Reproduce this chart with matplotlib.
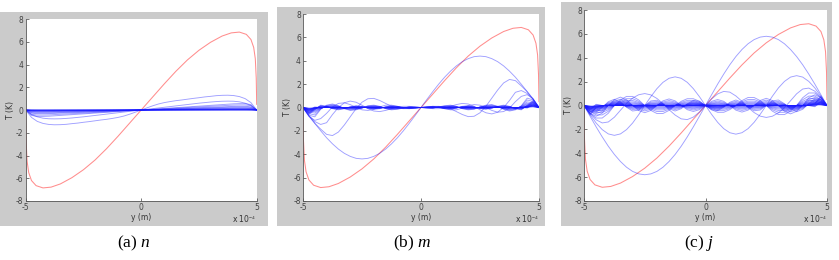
import matplotlib
matplotlib.use('Agg')

import numpy as np
import matplotlib.pyplot as plt
from matplotlib.patches import Rectangle

plt.rcParams['axes.unicode_minus'] = False
plt.rcParams['mathtext.fontset'] = 'custom'
plt.rcParams['mathtext.it'] = 'Liberation Serif:italic'
plt.rcParams['mathtext.rm'] = 'Liberation Serif'

# positions along y (units of 1e-4 m), right half; left half is the odd mirror
y_half = [0, 0.25, 0.5, 0.75, 1, 1.25, 1.5, 1.75, 2, 2.25, 2.5, 2.75,
          3, 3.25, 3.5, 3.75, 4, 4.25, 4.5, 4.75, 5]

# red curve (right half)
red_y = [0, 0.5, 1, 1.5, 2, 2.5, 3, 3.5, 3.9, 4.25, 4.55, 4.75, 4.87, 4.94, 4.98, 5.0]
red_T = [0, 1.15, 2.3, 3.4, 4.4, 5.25, 5.95, 6.5, 6.78, 6.85, 6.65, 6.2, 5.5, 4.5, 2.8, 0.5]

# (a) n
a_curves = [
    [0, .19, .37, .53, .65, .74, .82, .88, .95, 1.02, 1.08, 1.15, 1.2, 1.26, 1.29, 1.3, 1.27, 1.18, 1.0, .65, 0],
    [0, .06, .12, .18, .24, .3, .36, .42, .48, .54, .6, .65, .7, .74, .77, .78, .77, .72, .6, .4, 0],
]
a_edge = [0, .02, .04, .06, .08, .1, .12, .14, .16, .18, .2, .22, .24, .26, .28, .3, .32, .33, .33, .28, 0]
a_band = [1.7, 1.35, 1.0, .8, .6, .45, .35, .25, .18, .12, .08, .05, .03, .02, .01]

# (b) m
b_curves = [
    [0, .69, 1.36, 2.0, 2.59, 3.11, 3.56, 3.92, 4.18, 4.35, 4.4, 4.35, 4.18, 3.92, 3.56, 3.11, 2.59, 1.99, 1.36, .69, 0],
    [0, .05, .1, .1, .05, -.1, -.35, -.6, -.78, -.75, -.45, .1, .8, 1.5, 2.1, 2.4, 2.3, 1.85, 1.35, .75, 0],
    [0, -.05, -.1, -.1, -.05, .1, .25, .35, .3, .1, -.2, -.45, -.55, -.4, 0, .6, 1.3, 1.45, 1.2, .7, 0],
    [0, .03, .05, 0, -.1, -.2, -.2, -.05, .15, .25, .2, 0, -.25, -.4, -.35, -.05, .5, .95, 1.1, .75, 0],
    [0, -.03, -.05, .05, .15, .2, .1, -.1, -.2, -.15, .05, .2, .25, .1, -.15, -.3, -.2, .15, .8, .65, 0],
    [0, .05, .1, .05, -.1, -.15, -.05, .1, .15, .05, -.1, -.15, -.05, .1, .2, .1, -.1, -.2, .2, .6, 0],
]
b_band = [.8, .6, .45, .35, .25, .15, .1]
b_fan = [(0.05, .45), (0, .35), (.1, .5), (-.05, .25), (0, .2), (.05, .15)]

# (c) j
c_curves = [
    [0, .90, 1.79, 2.63, 3.41, 4.10, 4.69, 5.17, 5.52, 5.73, 5.8, 5.73, 5.52, 5.17, 4.69, 4.10, 3.41, 2.63, 1.79, .90, 0],
    [0, -.74, -1.41, -1.94, -2.28, -2.4, -2.28, -1.94, -1.41, -.74, 0, .77, 1.47, 2.02, 2.38, 2.5, 2.38, 2.02, 1.47, .77, 0],
    [0, .55, .97, 1.18, 1.12, .8, .35, -.16, -.59, -.89, -1.0, -.9, -.62, -.18, .4, .98, 1.38, 1.46, 1.2, .67, 0],
    [0, -.35, -.57, -.57, -.35, 0, .41, .67, .67, .41, 0, -.47, -.76, -.76, -.47, 0, .65, 1.05, 1.05, .65, 0],
    [0, .35, .5, .35, 0, -.39, -.55, -.39, 0, .42, .6, .42, 0, -.49, -.7, -.49, 0, .64, .9, .64, 0],
    [0, -.36, -.43, -.14, .27, .46, .27, -.14, -.44, -.38, 0, .39, .46, .15, -.3, -.52, -.32, .17, .55, .5, 0],
]
c_band = [.75, .55, .4, .28, .18, .1]
c_fan = [(.1, .6), (0, .45), (-.1, .35), (.15, .8), (0, .25), (-.05, .15), (.2, .7), (.05, .3)]

captions = ['(a) $n$', '(b) $m$', '(c) $j$']


def mirror(vals):
    v = np.asarray(vals, dtype=float)
    return np.concatenate([-v[::-1], v[1:]])


def panel_lines(curves, band_base, band, fan):
    out = [list(c) for c in curves]
    for base in band_base:
        for s in band:
            out.append([s * v for v in base])
    for v45, v475 in fan:
        row = [0.0] * len(y_half)
        row[-3] = v45
        row[-2] = v475
        out.append(row)
    return out


lines_a = panel_lines(a_curves, [a_edge], a_band, [])
lines_b = panel_lines(b_curves, [b_curves[4], b_curves[5]], b_band, b_fan)
lines_c = panel_lines(c_curves, [c_curves[3], c_curves[4], c_curves[5]], c_band, c_fan)

W, H = 839, 260
fig = plt.figure(figsize=(W / 100, H / 100), dpi=100)
fig.patch.set_facecolor('white')

# pixel boxes: grey frame and axes (x0, y0, x1, y1)
frames = [(0, 12, 268, 226), (277, 7, 545, 226), (561, 2, 832, 226)]
boxes = [(25.7, 19, 256.7, 201), (303, 14, 539, 201), (584, 10, 827, 201)]
cap_x = [134, 412, 699]

yy = mirror(y_half)
ry = mirror(red_y)
rt = mirror(red_T)

for k, lines in enumerate([lines_a, lines_b, lines_c]):
    fx0, fy0, fx1, fy1 = frames[k]
    fig.patches.append(Rectangle((fx0 / W, 1 - fy1 / H), (fx1 - fx0) / W, (fy1 - fy0) / H,
                                 transform=fig.transFigure, facecolor='#cbcbcb',
                                 edgecolor='none', zorder=-5))
    x0, y0, x1, y1 = boxes[k]
    ax = fig.add_axes([x0 / W, 1 - y1 / H, (x1 - x0) / W, (y1 - y0) / H])
    ax.set_zorder(1)
    ax.set_facecolor('white')

    ax.plot(ry, rt, color='#ff3030', lw=0.75, alpha=0.55)
    for row in lines:
        ax.plot(yy, mirror(row), color='#1a1aff', lw=0.65, alpha=0.42)

    ax.set_xlim(-5, 5)
    ax.set_ylim(-8, 8)
    ax.set_xticks([-5, 0, 5])
    ax.set_yticks(range(-8, 9, 2))
    ax.tick_params(direction='in', length=2.5, width=0.5, labelsize=5.5, pad=1.5,
                   colors='#444444', top=False, right=False)
    for s in ['top', 'right']:
        ax.spines[s].set_visible(False)
    for s in ['left', 'bottom']:
        ax.spines[s].set_color('#555555')
        ax.spines[s].set_linewidth(0.6)
    ax.set_xlabel('y (m)', fontsize=5.5, labelpad=1, color='#333333')
    ax.set_ylabel('T (K)', fontsize=5.5, labelpad=1, color='#333333')
    ax.annotate('x 10$^{-4}$', xy=(1, 0), xycoords='axes fraction',
                xytext=(0, -18 * 0.72), textcoords='offset points',
                ha='right', va='center', fontsize=5.5, color='#333333')

    fig.text(cap_x[k] / W, 1 - 243 / H, captions[k], ha='center', va='center',
             fontsize=12.5, family='Liberation Serif')

plt.savefig('out.png', dpi=100)
plt.close(fig)
